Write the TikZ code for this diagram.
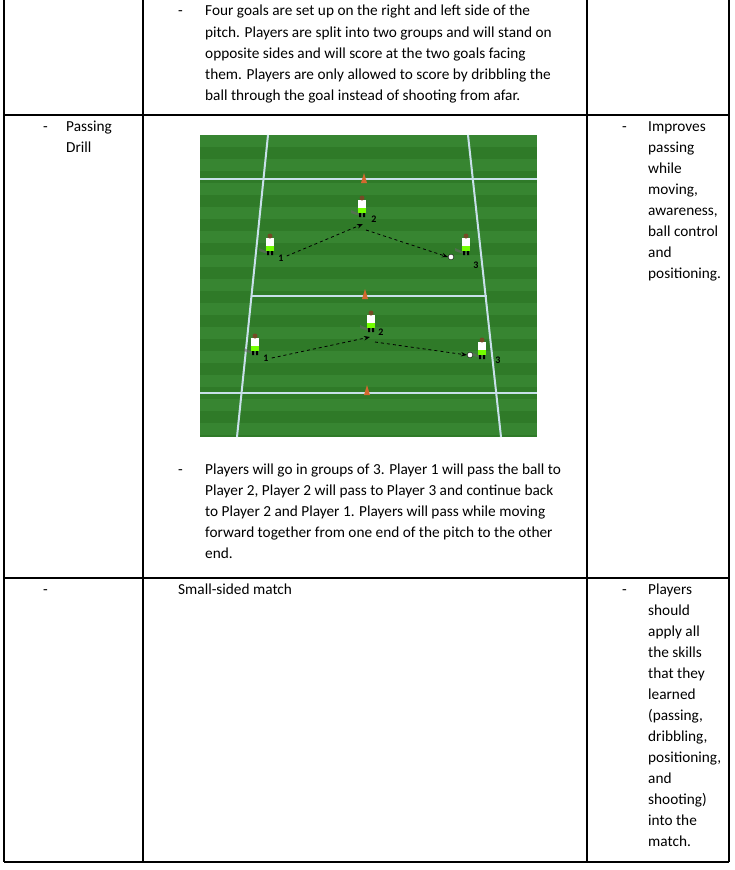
\documentclass[tikz,border=0pt]{standalone}
\usepackage{fontspec}
\setmainfont{Carlito}
\usetikzlibrary{arrows.meta}
\definecolor{grassA}{HTML}{2F7A28}
\definecolor{grassB}{HTML}{378531}
\definecolor{pitchline}{HTML}{C8E0EA}
\definecolor{cone}{HTML}{D2692F}
\tikzstyle{txt}=[anchor=base west, inner sep=0pt, font=\fontsize{15.3}{21}\selectfont]
\tikzstyle{rule}=[line width=1.2pt]
\tikzstyle{pass}=[thick, dashed, -{Stealth[length=6pt]}]
\tikzstyle{num}=[font=\bfseries\fontsize{10}{10}\selectfont, inner sep=0pt]
\newcommand{\player}[2]{%
  \fill[black!60, opacity=.6] (#1-11,#2+3) -- (#1,#2+8) -- (#1+1,#2+10) -- (#1-11,#2+6) -- cycle;
  \fill[white] (#1-4,#2-7) rectangle (#1+4,#2+1);
  \fill[green!55!yellow] (#1-4,#2+1) rectangle (#1+4,#2+6);
  \fill[black] (#1-3,#2+6) rectangle (#1-1,#2+10) (#1+1,#2+6) rectangle (#1+3,#2+10);
  \fill[brown!60!black] (#1,#2-9) circle (2.5);}
\begin{document}
\begin{tikzpicture}[x=1pt, y=-1pt]
    \useasboundingbox (0,0) rectangle (734,870);

    % table grid
    \draw[rule] (4,0) -- (4,862) (143,0) -- (143,862) (587,0) -- (587,862) (729,0) -- (729,862);
    \draw[rule] (4,115) -- (729,115) (4,578) -- (729,578) (4,862) -- (729,862);

    % top row
    \node[txt] (dashA) at (178,16) {-};
    \foreach \t [count=\i] in {{Four goals are set up on the right and left side of the},
        {pitch. Players are split into two groups and will stand on},
        {opposite sides and will score at the two goals facing},
        {them. Players are only allowed to score by dribbling the},
        {ball through the goal instead of shooting from afar.}}
        \node[txt] at (205,16+21*\i-21) {\t};

    % passing drill row
    \node[txt] (dashB) at (43,131) {-};
    \node[txt] (drill) at (66,131) {Passing};
    \node[txt] at (66,152) {Drill};
    \node[txt] (dashC) at (622,131) {-};
    \foreach \t [count=\i] in {Improves, passing, while, {moving,}, {awareness,}, ball control, and, positioning.}
        \node[txt] at (648,131+21*\i-21) {\t};

    % pitch picture
    \fill[grassA] (200,135) rectangle (537,437);
    \foreach \k in {0,...,12}
        \fill[grassB] (200,135+24*\k) rectangle (537,{min(147+24*\k,437)});
    \draw[pitchline, line width=2pt] (268,135) -- (237,437) (468,135) -- (501,437);
    \draw[pitchline, line width=2pt] (200,179) -- (537,179) (200,393) -- (537,393);
    \draw[pitchline, line width=1.5pt] (252,296) -- (487,296);
    \foreach \cx/\cy in {364/180, 365/296, 367/392}
        \fill[cone] (\cx-3,\cy+3) -- (\cx,\cy-7) -- (\cx+3,\cy+3) -- cycle;

    \player{270}{245} \player{362}{207} \player{466}{245}
    \player{255}{345} \player{371}{322} \player{482}{349}
    \node[num] (oneA) at (281,258) {1};
    \node[num] (twoA) at (374,219) {2};
    \node[num] (threeA) at (476,265) {3};
    \node[num] (oneB) at (266,358) {1};
    \node[num] (twoB) at (381,332) {2};
    \node[num] (threeB) at (498,360) {3};
    \node[circle, fill=white, draw=black, inner sep=2pt] (ballA) at (451,257) {};
    \node[circle, fill=white, draw=black, inner sep=2pt] (ballB) at (470,355) {};
    \coordinate (pA) at (363,224);
    \coordinate (qA) at (366,230);
    \coordinate (pB) at (370,337);
    \coordinate (qB) at (375,342);
    \draw[pass] (oneA.east) ++(3,-2) -- (pA);
    \draw[pass] (qA) -- (ballA.west);
    \draw[pass] (oneB.east) ++(3,0) -- (pB);
    \draw[pass] (qB) -- (ballB.west);

    \node[txt] (dashD) at (178,474) {-};
    \foreach \t [count=\i] in {{Players will go in groups of 3. Player 1 will pass the ball to},
        {Player 2, Player 2 will pass to Player 3 and continue back},
        {to Player 2 and Player 1. Players will pass while moving},
        {forward together from one end of the pitch to the other},
        {end.}}
        \node[txt] at (205,474+21*\i-21) {\t};

    % match row
    \node[txt] (dashE) at (43,594) {-};
    \node[txt] (match) at (178,594) {Small-sided match};
    \node[txt] (dashF) at (622,594) {-};
    \foreach \t [count=\i] in {Players, should, apply all, the skills, that they, learned, {(passing,}, {dribbling,}, {positioning,}, and, shooting), into the, match.}
        \node[txt] at (648,594+21*\i-21) {\t};
\end{tikzpicture}
\end{document}
